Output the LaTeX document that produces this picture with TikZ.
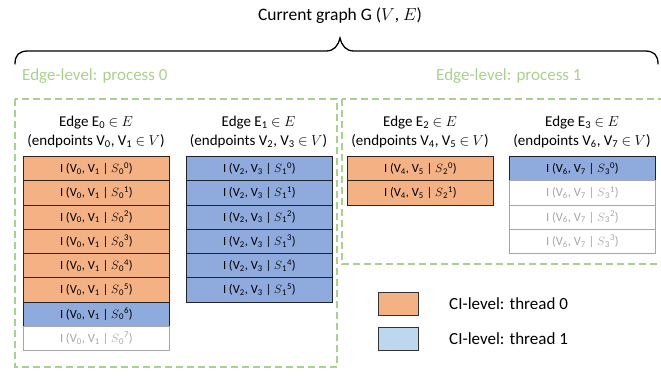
\documentclass[tikz,border=0pt]{standalone}
\usepackage{fontspec}
\setmainfont{Carlito}
\definecolor{orng}{HTML}{F4B183}
\definecolor{blu}{HTML}{8FAADC}
\definecolor{lblu}{HTML}{BDD7EE}
\definecolor{grn}{HTML}{A9D18E}
\definecolor{gry}{HTML}{A6A6A6}
\newcommand\rowtxt[4]{I (V\textsubscript{#1}, V\textsubscript{#2} | $S$\textsubscript{#3}\textsuperscript{#4})}
\begin{document}
\begin{tikzpicture}[x=1pt,y=-1pt,
  cell/.style={draw, line width=0.8pt, minimum width=146pt, minimum height=24.25pt, inner sep=0pt, font=\fontsize{12.5}{14}\selectfont, anchor=north west},
  cello/.style={cell, fill=orng, draw=black!80!orng},
  cellb/.style={cell, fill=blu, draw=black!80!blu},
  cellg/.style={cell, fill=white, draw=gry, text=gry},
  head/.style={align=center, font=\fontsize{15}{19}\selectfont, inner sep=0pt},
  grnbox/.style={draw=grn, line width=1.6pt, dash pattern=on 7pt off 4pt},
  grntxt/.style={text=grn, font=\fontsize{17}{20}\selectfont, anchor=west, inner sep=0pt},
  legbox/.style={draw=black!80, line width=0.8pt, minimum width=40pt, minimum height=23pt, inner sep=0pt, anchor=north west},
  legtxt/.style={font=\fontsize{17}{20}\selectfont, anchor=west, inner sep=0pt}]
\useasboundingbox (0,0) rectangle (661,376);
% title and brace
\node[font=\fontsize{17.5}{20}\selectfont, inner sep=0pt] (title) at (340,16) {Current graph G ($V$, $E$)};
\coordinate (bL) at (15,64);
\coordinate (bT) at (340,38);
\coordinate (bR) at (658,64);
\draw[line width=1.3pt, line cap=round] (bL) .. controls (15,55) and (19,51) .. (28,51) -- (326,51) .. controls (334,51) and (338,46) .. (bT) .. controls (342,46) and (346,51) .. (354,51) -- (645,51) .. controls (654,51) and (658,55) .. (bR);
% process boxes
\node[grntxt] (p0) at (22,76) {Edge-level: process 0};
\node[grntxt] (p1) at (436,76) {Edge-level: process 1};
\draw[grnbox] (15,99) rectangle (337,367);
\draw[grnbox] (342,99) rectangle (663,264);
% headers
\node[head] (h0) at (96,132) {Edge E\textsubscript{0} $\in$ $E$\\(endpoints V\textsubscript{0}, V\textsubscript{1} $\in$ $V$)};
\node[head] (h1) at (258.5,132) {Edge E\textsubscript{1} $\in$ $E$\\(endpoints V\textsubscript{2}, V\textsubscript{3} $\in$ $V$)};
\node[head] (h2) at (420,132) {Edge E\textsubscript{2} $\in$ $E$\\(endpoints V\textsubscript{4}, V\textsubscript{5} $\in$ $V$)};
\node[head] (h3) at (582,132) {Edge E\textsubscript{3} $\in$ $E$\\(endpoints V\textsubscript{6}, V\textsubscript{7} $\in$ $V$)};
% column 0
\foreach \s [count=\i from 0] in {cello,cello,cello,cello,cello,cello,cellb,cellg}
  \node[\s] (a\i) at (23,156+24.25*\i) {\rowtxt{0}{1}{0}{\i}};
% column 1
\foreach \s [count=\i from 0] in {cellb,cellb,cellb,cellb,cellb,cellb}
  \node[\s] (b\i) at (186,156+24.25*\i) {\rowtxt{2}{3}{1}{\i}};
% column 2
\foreach \s [count=\i from 0] in {cello,cello}
  \node[\s] (c\i) at (347,156+24.25*\i) {\rowtxt{4}{5}{2}{\i}};
% column 3
\foreach \s [count=\i from 0] in {cellb,cellg,cellg,cellg}
  \node[\s] (d\i) at (509,156+24.25*\i) {\rowtxt{6}{7}{3}{\i}};
% legend
\node[legbox, fill=orng] (lo) at (378,292) {};
\node[legbox, fill=lblu] (lb) at (378,327) {};
\node[legtxt] (lto) at (449,303.5) {CI-level: thread 0};
\node[legtxt] (ltb) at (449,338.5) {CI-level: thread 1};
\end{tikzpicture}
\end{document}
